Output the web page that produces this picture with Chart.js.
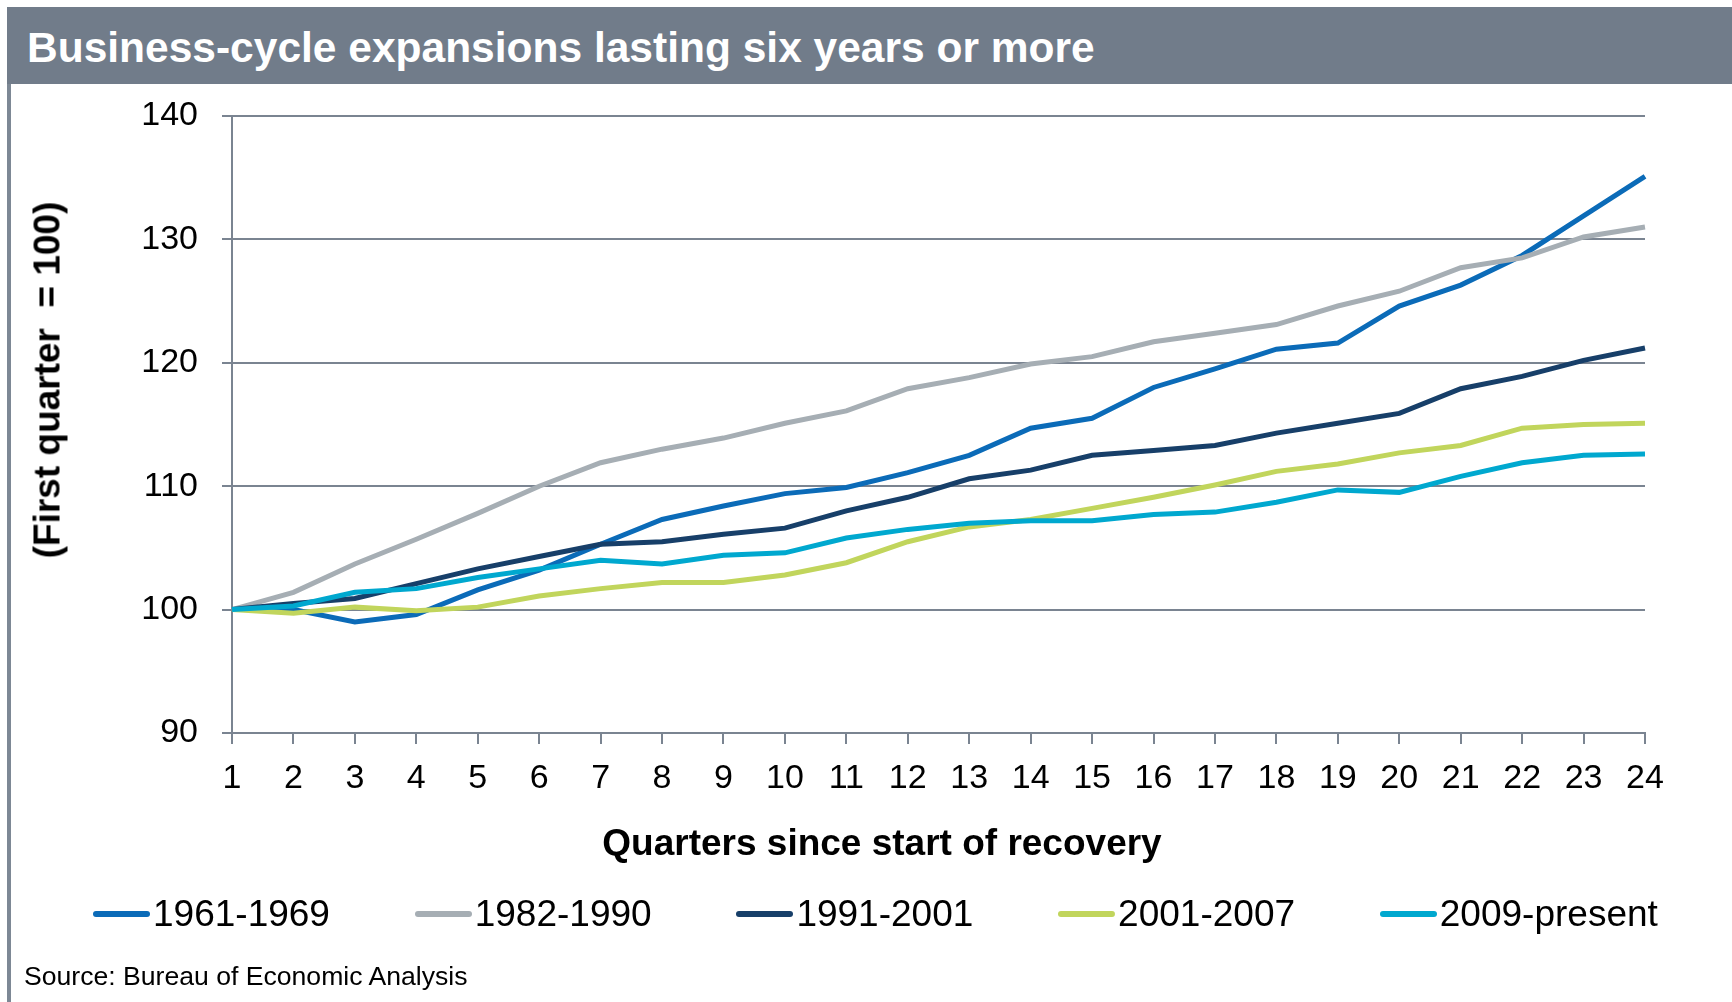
<!DOCTYPE html>
<html>
<head>
<meta charset="utf-8">
<title>Business-cycle expansions</title>
<script src="https://cdn.jsdelivr.net/npm/chart.js"></script>
<style>
  body { margin: 0; width: 1732px; height: 1002px; background: #fff; position: relative; overflow: hidden;
         font-family: "Liberation Sans", Arial, sans-serif; }
  #bar { position: absolute; left: 7px; top: 7px; width: 1725px; height: 77px; background: #717c8a; }
  #edge { position: absolute; left: 7px; top: 84px; width: 4px; height: 918px; background: #7d8895; }
  #title { position: absolute; left: 27px; top: 27px; color: #fff; font-weight: bold; font-size: 42.5px;
           line-height: 42.5px; white-space: nowrap; }
  #chart { position: absolute; left: 0; top: 0; }
  #ytitle { position: absolute; left: 47px; top: 380px; font-weight: bold; font-size: 37px; line-height: 37px;
            white-space: pre; transform: translate(-50%, -50%) rotate(-90deg); }
  #xtitle { position: absolute; left: 882px; top: 824px; font-weight: bold; font-size: 37px; line-height: 37px;
            white-space: nowrap; transform: translateX(-50%); }
  .item { position: absolute; top: 895px; height: 37px; font-size: 37px; line-height: 37px; white-space: nowrap; }
  .item span.sw { position: absolute; left: 0; top: 16px; width: 57px; height: 6px; border-radius: 3px; }
  .item span.tx { position: absolute; left: 60px; top: 0; }
  #source { position: absolute; left: 24px; top: 963px; font-size: 26.6px; line-height: 26.6px; white-space: nowrap; }
</style>
</head>
<body>
<div id="bar"></div>
<div id="edge"></div>
<div id="title">Business-cycle expansions lasting six years or more</div>
<canvas id="chart" width="1732" height="1002"></canvas>
<div id="ytitle">(First quarter  = 100)</div>
<div id="xtitle">Quarters since start of recovery</div>
<div id="legend"></div>
<div id="source">Source: Bureau of Economic Analysis</div>

<script>
// quarters since start of recovery
var quarters = ['1','2','3','4','5','6','7','8','9','10','11','12',
                '13','14','15','16','17','18','19','20','21','22','23','24'];

// index, first quarter = 100
var s1961 = [100, 100.0, 99.0, 99.6, 101.6, 103.2, 105.3, 107.3, 108.4, 109.4, 109.9, 111.1,
             112.5, 114.7, 115.5, 118.0, 119.5, 121.1, 121.6, 124.6, 126.3, 128.7, 131.9, 135.1];
var s1982 = [100, 101.4, 103.7, 105.7, 107.8, 110.0, 111.9, 113.0, 113.9, 115.1, 116.1, 117.9,
             118.8, 119.9, 120.5, 121.7, 122.4, 123.1, 124.6, 125.8, 127.7, 128.5, 130.2, 131.0];
var s1991 = [100, 100.5, 100.9, 102.1, 103.3, 104.3, 105.3, 105.5, 106.1, 106.6, 108.0, 109.1,
             110.6, 111.3, 112.5, 112.9, 113.3, 114.3, 115.1, 115.9, 117.9, 118.9, 120.2, 121.2];
var s2001 = [100, 99.7, 100.2, 99.9, 100.2, 101.1, 101.7, 102.2, 102.2, 102.8, 103.8, 105.5,
             106.7, 107.3, 108.2, 109.1, 110.1, 111.2, 111.8, 112.7, 113.3, 114.7, 115.0, 115.1];
var s2009 = [100, 100.3, 101.4, 101.7, 102.6, 103.3, 104.0, 103.7, 104.4, 104.6, 105.8, 106.5,
             107.0, 107.2, 107.2, 107.7, 107.9, 108.7, 109.7, 109.5, 110.8, 111.9, 112.5, 112.6];

var seriesNames = ['1961-1969', '1982-1990', '1991-2001', '2001-2007', '2009-present'];
var yTicks = [90, 100, 110, 120, 130, 140];

var colors = ['#0b6bb8', '#a6aeb4', '#173f69', '#c1d55c', '#00a8cf'];
var gridColor = '#7a8491';
var font = '"Liberation Sans", Arial, sans-serif';

var datasets = [s1961, s1982, s1991, s2001, s2009].map(function(d, i) {
  return {
    label: seriesNames[i],
    data: d,
    borderColor: colors[i],
    backgroundColor: colors[i],
    borderWidth: 5,
    pointRadius: 0,
    tension: 0,
    fill: false,
    order: 5 - i   // later series on top, like the original
  };
});

var chart = new Chart(document.getElementById('chart'), {
  type: 'line',
  data: { labels: quarters, datasets: datasets },
  options: {
    responsive: false,
    animation: false,
    layout: { padding: { left: 0, top: 116, right: 87, bottom: 0 } },
    plugins: { legend: { display: false }, tooltip: { enabled: false } },
    scales: {
      x: {
        offset: false,
        grid: { drawOnChartArea: false, drawTicks: true, tickLength: 11, color: gridColor, lineWidth: 2, offset: false },
        border: { display: true, color: gridColor, width: 2 },
        ticks: { color: '#000', font: { family: font, size: 34 }, padding: 14, maxRotation: 0, autoSkip: false },
        afterFit: function(scale) { scale.height = 1002 - 733; }
      },
      y: {
        min: yTicks[0],
        max: yTicks[yTicks.length - 1],
        grid: { color: gridColor, lineWidth: 2, tickLength: 10 },
        border: { display: true, color: gridColor, width: 2 },
        ticks: { stepSize: 10, color: '#000', font: { family: font, size: 34 }, padding: 24 },
        afterFit: function(scale) { scale.width = 232; }
      }
    }
  }
});

// legend on a fixed grid under the chart
var legend = document.getElementById('legend');
chart.data.datasets.forEach(function(ds, i) {
  var item = document.createElement('div');
  item.className = 'item';
  item.style.left = (93 + i * 321.7) + 'px';
  item.innerHTML = '<span class="sw" style="background:' + ds.borderColor + '"></span><span class="tx">' + ds.label + '</span>';
  legend.appendChild(item);
});
</script>
</body>
</html>
